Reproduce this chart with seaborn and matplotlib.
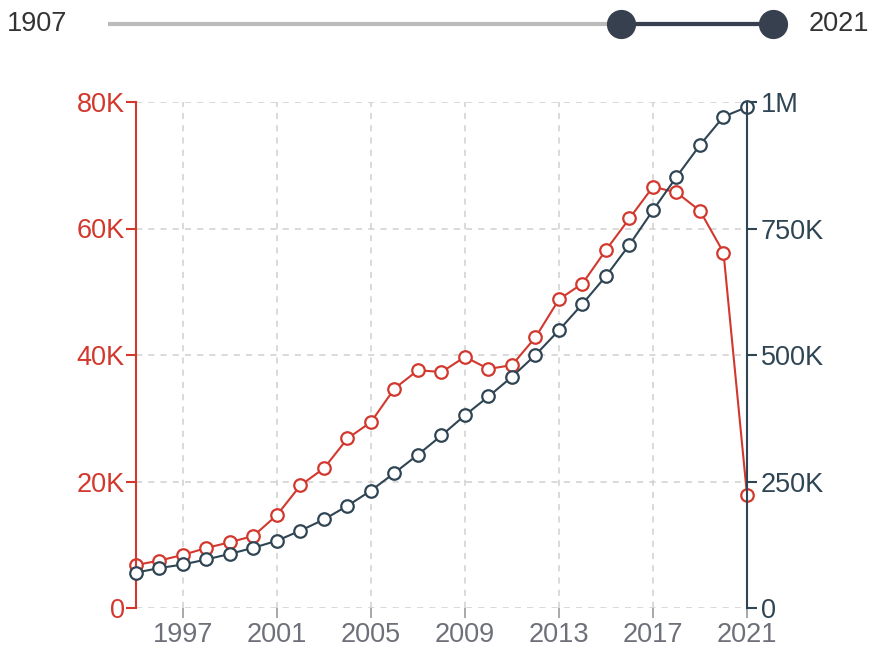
import matplotlib
matplotlib.use('Agg')
import matplotlib.pyplot as plt
import seaborn as sns
import pandas as pd
from matplotlib.ticker import FixedLocator, FuncFormatter

years = list(range(1995, 2022))
left_values = [6800, 7500, 8400, 9500, 10400, 11400, 14700, 19400, 22100, 26800,
               29400, 34700, 37600, 37300, 39700, 37800, 38400, 42800, 48800, 51300,
               56600, 61600, 66600, 65700, 62800, 56200, 17900]
right_values = [70000, 79000, 86000, 96000, 107000, 119000, 133000, 153000, 175000, 202000,
                232000, 267000, 303000, 341000, 381000, 418000, 457000, 500000, 549000, 601000,
                656000, 718000, 786000, 852000, 915000, 971000, 990000]
x_ticks = [1997, 2001, 2005, 2009, 2013, 2017, 2021]
left_ticks = [0, 20000, 40000, 60000, 80000]
left_tick_labels = ['0', '20K', '40K', '60K', '80K']
right_ticks = [0, 250000, 500000, 750000, 1000000]
right_tick_labels = ['0', '250K', '500K', '750K', '1M']
slider_range = [1907, 2021]
slider_selected = [1995, 2021]

RED = '#d2382d'
NAVY = '#2f4554'
GRID = '#d0d0d0'
TEXT = '#6e7079'
FS = 19.5

sns.set_theme(style='white')
plt.rcParams['font.family'] = ['Liberation Sans', 'DejaVu Sans']

df = pd.DataFrame({'year': years, 'left': left_values, 'right': right_values})

fig = plt.figure(figsize=(8.76, 6.53), dpi=100)
ax = fig.add_axes([136 / 876, 1 - 608 / 653, (747 - 136) / 876, (608 - 102) / 653])
ax2 = ax.twinx()

ax.set_xlim(years[0], years[-1])
ax.set_ylim(0, 80000)
ax2.set_ylim(0, 1000000)

# dashed grid
ax.xaxis.set_major_locator(FixedLocator(x_ticks))
ax.yaxis.set_major_locator(FixedLocator(left_ticks))
ax.grid(True, color=GRID, linestyle=(0, (4, 4)), linewidth=1.1)
ax.set_axisbelow(True)

line_kw = dict(marker='o', markersize=9, markerfacecolor='white', markeredgewidth=1.6,
               linewidth=1.5, clip_on=False)
sns.lineplot(data=df, x='year', y='left', ax=ax, color=RED, markeredgecolor=RED, **line_kw)
sns.lineplot(data=df, x='year', y='right', ax=ax2, color=NAVY, markeredgecolor=NAVY, **line_kw)

ax.set_xlabel('')
ax.set_ylabel('')
ax2.set_ylabel('')

for a in (ax, ax2):
    for s in a.spines.values():
        s.set_visible(False)

ax.spines['left'].set_visible(True)
ax.spines['left'].set_color(RED)
ax.spines['left'].set_linewidth(1.5)
ax2.spines['right'].set_visible(True)
ax2.spines['right'].set_color(NAVY)
ax2.spines['right'].set_linewidth(1.5)

ax.yaxis.set_major_formatter(FuncFormatter(lambda v, p: left_tick_labels[left_ticks.index(int(v))]))
ax2.yaxis.set_major_locator(FixedLocator(right_ticks))
ax2.yaxis.set_major_formatter(FuncFormatter(lambda v, p: right_tick_labels[right_ticks.index(int(v))]))

ax.tick_params(axis='y', left=True, length=7, width=1.5, color=RED, labelcolor=RED,
               labelsize=FS, pad=1)
ax2.tick_params(axis='y', right=True, length=7, width=1.5, color=NAVY, labelcolor=NAVY,
                labelsize=FS, pad=3)
ax.tick_params(axis='x', bottom=True, length=7, width=1.2, color='#999999', labelcolor=TEXT,
               labelsize=FS, pad=3)

# range slider on top
sl = fig.add_axes([108 / 876, 1 - 34 / 653, (773 - 108) / 876, 20 / 653])
sl.set_xlim(*slider_range)
sl.set_ylim(-1, 1)
sl.axis('off')
sl.plot(slider_range, [0, 0], color='#bbbbbb', linewidth=3, solid_capstyle='butt')
sl.plot(slider_selected, [0, 0], color='#36404f', linewidth=3, marker='o', markersize=20,
        markerfacecolor='#36404f', markeredgecolor='#36404f', clip_on=False)
fig.text(7 / 876, 1 - 24 / 653, str(slider_range[0]), ha='left', va='center',
         fontsize=FS, color='#333333')
fig.text(869 / 876, 1 - 24 / 653, str(slider_range[1]), ha='right', va='center',
         fontsize=FS, color='#333333')

fig.savefig('out.png', dpi=100)
